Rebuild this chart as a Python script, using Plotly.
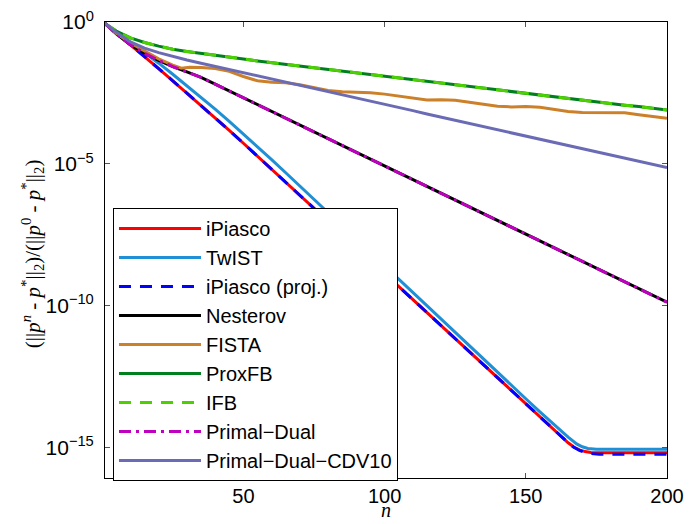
import plotly.graph_objects as go

# ---------------- data (log10 of relative error) ----------------
n_grid = [1, 5, 10, 15, 20, 25, 30, 35, 40, 45, 50, 55, 60, 65, 70, 75, 80, 85, 90, 95,
          100, 105, 110, 115, 120, 125, 130, 135, 140, 145, 150, 155, 160, 165, 170, 175,
          180, 185, 190, 195, 200]

n_ipiasco = [1, 5, 10, 15, 20, 25, 30, 35, 40, 45, 50, 55, 60, 65, 70, 75, 80, 85, 90, 95,
             100, 105, 110, 115, 120, 125, 130, 135, 140, 145, 150, 155, 160, 163, 165, 167,
             169, 171, 173, 176, 180, 190, 200]
log_ipiasco = [-0.05, -0.38, -0.80, -1.22, -1.64, -2.07, -2.50, -2.94, -3.38, -3.82, -4.27,
               -4.73, -5.19, -5.65, -6.11, -6.57, -7.03, -7.49, -7.95, -8.41, -8.87, -9.33,
               -9.79, -10.25, -10.71, -11.17, -11.63, -12.09, -12.55, -13.01, -13.47, -13.93,
               -14.39, -14.66, -14.82, -14.97, -15.07, -15.13, -15.16, -15.17, -15.17, -15.17,
               -15.17]
log_ipiasco_proj = [-0.05, -0.38, -0.80, -1.22, -1.64, -2.07, -2.50, -2.94, -3.38, -3.82, -4.27,
                    -4.73, -5.19, -5.65, -6.11, -6.57, -7.03, -7.49, -7.95, -8.41, -8.87, -9.33,
                    -9.79, -10.25, -10.71, -11.17, -11.63, -12.09, -12.55, -13.01, -13.47, -13.93,
                    -14.39, -14.66, -14.82, -14.98, -15.09, -15.16, -15.20, -15.22, -15.22, -15.22,
                    -15.22]

n_twist = [1, 5, 10, 15, 20, 25, 30, 35, 40, 45, 50, 55, 60, 65, 70, 75, 80, 85, 90, 95,
           100, 105, 110, 115, 120, 125, 130, 135, 140, 145, 150, 155, 160, 165, 168, 170,
           172, 175, 180, 190, 200]
log_twist = [-0.05, -0.34, -0.70, -1.07, -1.45, -1.84, -2.24, -2.65, -3.07, -3.50, -3.94,
             -4.39, -4.85, -5.31, -5.78, -6.24, -6.71, -7.18, -7.65, -8.12, -8.59, -9.06,
             -9.53, -10.00, -10.47, -10.94, -11.41, -11.88, -12.35, -12.81, -13.27, -13.73,
             -14.19, -14.62, -14.86, -14.96, -15.02, -15.05, -15.05, -15.05, -15.05]

log_nesterov = [-0.05, -0.42, -0.80, -1.10, -1.35, -1.57, -1.76, -1.95, -2.19, -2.43, -2.67,
                -2.91, -3.15, -3.39, -3.63, -3.87, -4.11, -4.35, -4.59, -4.83, -5.07, -5.31,
                -5.55, -5.79, -6.03, -6.27, -6.51, -6.75, -6.99, -7.23, -7.47, -7.71, -7.95,
                -8.19, -8.43, -8.67, -8.91, -9.15, -9.39, -9.63, -9.87]
log_primal_dual = list(log_nesterov)

n_fista = [1, 5, 10, 15, 20, 25, 28, 31, 35, 40, 45, 50, 55, 60, 65, 70, 75, 80, 85, 90, 95,
           100, 105, 110, 115, 120, 125, 130, 135, 140, 145, 150, 155, 160, 165, 170, 175,
           180, 185, 190, 195, 200]
log_fista = [-0.05, -0.40, -0.74, -1.02, -1.30, -1.52, -1.63, -1.59, -1.60, -1.64, -1.74,
             -1.92, -2.07, -2.12, -2.14, -2.21, -2.32, -2.41, -2.46, -2.47, -2.49, -2.54,
             -2.61, -2.70, -2.75, -2.74, -2.76, -2.83, -2.91, -2.97, -2.99, -2.98, -3.00,
             -3.07, -3.15, -3.19, -3.19, -3.18, -3.20, -3.27, -3.34, -3.39]

log_proxfb = [-0.05, -0.32, -0.56, -0.72, -0.85, -0.96, -1.04, -1.10, -1.17, -1.24, -1.30,
              -1.37, -1.43, -1.49, -1.55, -1.61, -1.67, -1.74, -1.80, -1.87, -1.93, -1.99,
              -2.05, -2.11, -2.17, -2.23, -2.29, -2.35, -2.41, -2.47, -2.53, -2.59, -2.65,
              -2.70, -2.76, -2.82, -2.87, -2.93, -2.98, -3.04, -3.10]
log_ifb = list(log_proxfb)

log_cdv10 = [-0.05, -0.36, -0.70, -0.92, -1.08, -1.22, -1.34, -1.45, -1.56, -1.67, -1.78,
             -1.90, -2.01, -2.12, -2.23, -2.34, -2.45, -2.57, -2.68, -2.79, -2.90, -3.01,
             -3.12, -3.24, -3.35, -3.46, -3.57, -3.68, -3.79, -3.91, -4.02, -4.13, -4.24,
             -4.35, -4.46, -4.58, -4.69, -4.80, -4.91, -5.02, -5.13]

y_tick_vals = [1e-15, 1e-10, 1e-5, 1e0]
y_tick_text = ["10<sup>−15</sup>", "10<sup>−10</sup>", "10<sup>−5</sup>", "10<sup>0</sup>"]
x_tick_vals = [50, 100, 150, 200]

x_title = "<i>n</i>"
y_title = ("(||<i>p</i><sup><i>n</i></sup> - <i>p</i><sup>*</sup>||<sub>2</sub>)"
           "/(||<i>p</i><sup>0</sup> - <i>p</i><sup>*</sup>||<sub>2</sub>)")

# ---------------- figure ----------------
def pw(lst):
    return [10 ** v for v in lst]

series = [
    ("iPiasco", n_ipiasco, log_ipiasco, "#FF0000", "solid"),
    ("TwIST", n_twist, log_twist, "#1F8FD6", "solid"),
    ("iPiasco (proj.)", n_ipiasco, log_ipiasco_proj, "#0000FF", "12px,9px"),
    ("Nesterov", n_grid, log_nesterov, "#000000", "solid"),
    ("FISTA", n_fista, log_fista, "#CC8029", "solid"),
    ("ProxFB", n_grid, log_proxfb, "#007F1F", "solid"),
    ("IFB", n_grid, log_ifb, "#4CD000", "12px,9px"),
    ("Primal−Dual", n_grid, log_primal_dual, "#BF00BF", "12px,5px,3px,5px"),
    ("Primal−Dual−CDV10", n_grid, log_cdv10, "#6B6BB5", "solid"),
]

fig = go.Figure()
for i, (name, xs, ys, col, dash) in enumerate(series):
    fig.add_trace(go.Scatter(
        x=xs, y=pw(ys), mode="lines", name=name, legendgroup=f"g{i}",
        line=dict(color=col, width=3, dash=dash),
    ))

fig.update_layout(
    width=690, height=524,
    margin=dict(l=105, r=23, t=22, b=46, autoexpand=False),
    paper_bgcolor="white", plot_bgcolor="white",
    font=dict(family="Liberation Sans, Arial, sans-serif", size=21, color="black"),
    showlegend=True,
    legend=dict(
        x=0.0142, y=0.592, xanchor="left", yanchor="top",
        bgcolor="white", bordercolor="black", borderwidth=1,
        font=dict(family="Liberation Sans, Arial, sans-serif", size=20, color="black"),
        itemwidth=82, tracegroupgap=0,
    ),
    annotations=[
        dict(text=x_title, xref="paper", yref="paper", x=0.5, y=-0.0985,
             xanchor="center", yanchor="bottom", showarrow=False,
             font=dict(family="Liberation Serif, serif", size=20)),
        dict(text=y_title, xref="paper", yref="paper", x=-0.13, y=0.493,
             xanchor="center", yanchor="middle", showarrow=False, textangle=-90,
             font=dict(family="Liberation Serif, serif", size=21)),
    ],
)
fig.update_xaxes(
    range=[1, 200], tickvals=x_tick_vals, ticks="inside", ticklen=5,
    tickcolor="#555555", showline=True, linecolor="black", linewidth=1,
    mirror="allticks", showgrid=False, zeroline=False, automargin=False,
    tickfont=dict(size=20),
)
fig.update_yaxes(
    type="log", range=[-16.06, 0], tickvals=y_tick_vals, ticktext=y_tick_text,
    ticks="inside", ticklen=5, tickcolor="#555555", showline=True, linecolor="black",
    linewidth=1, mirror="allticks", showgrid=False, zeroline=False, automargin=False,
    tickfont=dict(size=21), ticklabelstandoff=6,
)

fig.write_html("out.html", config={"displayModeBar": False},
               post_script="document.body.style.margin='0';document.body.style.padding='0';")
